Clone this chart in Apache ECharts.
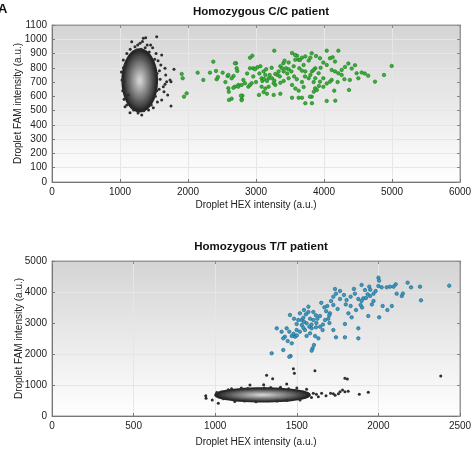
<!DOCTYPE html>
<html lang="en">
<head>
<meta charset="UTF-8">
<title>ddPCR droplet plots</title>
<style>
    html, body { margin: 0; padding: 0; background: #fff; }
    #echart { width: 471px; height: 463px; }
</style>
</head>
<body>
<div id="echart"></div>
<script src="https://cdn.jsdelivr.net/npm/echarts@6/dist/echarts.min.js"></script>
<script>
    // ---- data (HEX, FAM in a.u.) ----
    const xTicksTop = [0, 1000, 2000, 3000, 4000, 5000, 6000];
    const yTicksTop = [0, 100, 200, 300, 400, 500, 600, 700, 800, 900, 1000, 1100];
    const xTicksBottom = [0, 500, 1000, 1500, 2000, 2500];
    const yTicksBottom = [0, 1000, 2000, 3000, 4000, 5000];

    // dense negative-droplet clouds: [centerHEX, centerFAM, spreadHEX, spreadFAM]
    const cloudTop = [[1290, 712, 255, 218]];
    const cloudBottom = [[1290, 680, 290, 215]];

    const greyTop = [
        [1540,1018],[1378,1011],[1343,1008],[1294,972],[1172,983],[1220,948],[1260,960],[1330,985],
        [1400,960],[1613,890],[1662,797],[1672,750],[1686,703],[1735,715],[1794,790],[1750,702],
        [1637,668],[1647,632],[1701,610],[1750,533],[1613,575],[1662,685],[1147,486],[1265,483],
        [1074,528],[1049,855],[1029,715],[1040,640],[1060,580],[1100,900],[1150,930],[1560,850],
        [1580,780],[1575,650],[1550,560],[1490,520],[1200,505],[1320,470],[1590,720],[1600,820],
        [1530,900],[1450,960],[1020,770],[1100,540],[1420,505],[1480,940],[1120,610],[1050,800],
        [1370,940],[1310,930],[1250,925],[1430,910],[1510,860],[1545,760],[1540,640],[1060,700],
        [1075,820],[1090,600],[1180,520],[1350,500],[1460,540],[1520,600]
    ];
    const greenTop = [
        [1941,598],[1980,621],[1907,757],[1922,727],[2142,766],[2225,715],[2372,843],[2323,766],
        [2412,778],[2422,720],[2440,735],[2510,766],[2583,743],[2593,657],[2600,632],[2642,584],
        [2670,743],[2690,668],[2706,832],[2725,778],[2740,680],[2790,580],[2800,605],
        [3269,920],[2691,832],[2912,871],[2946,885],[2593,750],[2642,727],[2716,797],[2814,715],
        [2789,680],[2838,692],[2740,668],[2667,660],[2603,575],[2779,605],[2789,573],[2887,668],
        [2912,680],[2936,692],[2912,797],[2961,797],[2985,790],[3020,804],[3064,811],[3112,775],
        [3083,727],[3093,708],[3118,721],[3137,750],[3161,708],[3186,727],[3201,750],[3235,727],
        [3270,710],[3284,757],[3318,750],[3333,775],[3358,811],[3382,797],[3407,775],[3441,797],
        [3480,790],[3520,775],[3554,811],[3578,857],[3530,904],[3603,885],[3627,857],[3676,871],
        [3725,880],[3775,851],[3799,871],[3637,797],[3676,780],[3725,775],[3720,740],[3775,727],
        [3823,775],[3872,797],[3848,700],[3676,700],[3700,665],[3627,640],[3578,655],[3530,680],
        [3480,727],[3407,708],[3358,695],[3284,680],[3260,692],[3186,668],[3137,655],[3112,630],
        [3083,668],[3161,618],[3260,610],[3358,618],[3044,610],[3530,590],[3627,590],[3676,590],
        [3725,552],[3823,552],[3402,832],[3480,837],[3574,890],[3647,855],[3819,902],[3882,883],
        [3941,867],[4040,920],[3990,837],[4040,820],[4088,867],[4127,874],[4162,844],[4211,920],
        [4113,785],[4162,775],[4211,762],[4260,785],[4309,806],[4358,830],[4407,795],[4456,818],
        [4480,762],[4554,767],[4505,727],[4380,715],[4260,750],[4113,715],[4040,690],[3990,667],
        [4088,703],[3941,703],[3872,727],[3921,762],[3990,727],[3848,785],[3800,750],[3870,656],
        [3895,645],[3925,673],[3850,633],[3820,598],[4040,568],[4166,570],[3794,598],[4368,645],
        [4750,703],[4882,750],[4995,813],[4600,760],[4650,745],[3000,700],[2960,740],[3350,740],
        [3460,760],[3560,740],[3600,720],[3230,800],[3150,790],[2870,760],[2550,700],[4200,700],
        [4150,640],[4300,720],[3950,800],[3700,820],[3420,850],[3050,760]
    ];

    const greyBottom = [
        [942,655],[944,570],[982,516],[1019,410],[1315,1312],[1352,1204],[1479,1527],[1485,1376],
        [1611,1462],[1438,1032],[1213,1000],[1297,1010],[1601,732],[1632,623],[1652,730],[1679,655],
        [1707,730],[1735,667],[1795,1215],[1810,1194],[1765,785],[1780,840],[1795,785],[1815,800],
        [1755,720],[1724,720],[1883,700],[1938,765],[2382,1290],[1100,880],[1160,900],[1400,930],
        [1500,900],[1560,860],[1050,560],[1120,470],[1250,460],[1380,480],[1520,520],[1590,600],
        [1620,700],[1010,760],[1080,850],[1340,920],[1200,890],[1450,880],[1300,900],[1180,480],
        [1440,500]
    ];
    const blueBottom = [
        [2000,4462],[2004,4366],[2434,4204],[2179,4301],[2255,4172],[2261,3731],[2106,4247],[2093,4172],
        [2071,4172],[2143,3871],[2112,3946],[2051,4150],[2000,4193],[2020,4150],[1983,4032],[1970,3946],
        [1944,4172],[1950,4075],[1918,4064],[1897,4226],[1908,3796],[1897,3710],[1891,3581],[1877,3774],
        [1863,3419],[1856,3946],[1805,3742],[1789,3903],[1765,4032],[1734,4096],[1740,3946],[1765,3774],
        [1724,3849],[1710,3710],[1724,3581],[1687,3548],[1669,3505],[1703,3312],[1693,3140],[1699,3247],
        [1673,3097],[1642,3226],[1617,3247],[1626,3140],[1601,3097],[1581,3140],[1571,3527],[1544,3419],
        [1519,3312],[1530,3097],[1544,3043],[1560,2989],[1577,2881],[1591,2828],[1617,2860],[1642,2881],
        [1658,2774],[1632,2505],[1605,2290],[1597,2183],[1591,2108],[1612,2580],[1581,2666],[1560,2580],
        [1550,2774],[1519,2720],[1499,2774],[1489,2559],[1469,2580],[1454,2720],[1438,2828],[1427,2559],
        [1417,2505],[1444,2419],[1469,2344],[1462,1935],[1454,1913],[1417,2129],[1377,2828],[1407,2720],
        [1458,3258],[1483,3140],[1509,3097],[1499,2968],[1530,2935],[1540,3172],[1556,3279],[1571,3355],
        [1601,3355],[1346,2022],[1724,2774],[1740,2538],[1795,2538],[1795,2968],[1877,2505],[1877,2828],
        [1816,3312],[1836,3183],[1830,3548],[1938,3226],[2005,3183],[2026,3548],[2082,3548],[2055,3419],
        [1970,3710],[1949,3871],[1924,3806],[1934,3925],[1850,4100],[1800,3600],[1660,2950],[1620,3000],
        [1590,2950],[1480,2650],[1500,2600],[1540,2850],[1680,3380],[1750,3450],[1900,3500],[1960,3600],
        [2150,3950],[2200,4150],[1830,3850],[1650,3650],[1700,3000]
    ];

    const myChart = echarts.init(document.getElementById("echart"));

    const font = "Liberation Sans, Arial, sans-serif";
    const plotBg = new echarts.graphic.LinearGradient(0, 0, 0, 1, [
        { offset: 0, color: "#d4d4d4" },
        { offset: 1, color: "#ffffff" }
    ]);

    // concentric ellipses, dark rim to light core
    function cloudRender(params, api) {
        const cx = api.value(0), cy = api.value(1), rx = api.value(2), ry = api.value(3);
        const layers = 14;
        const children = [];
        for (let k = 0; k < layers; k++) {
            const t = k / (layers - 1);
            const s = 1 - 0.9 * t;
            const g = Math.round(38 + 170 * Math.pow(t, 0.95));
            const pts = [];
            for (let i = 0; i < 48; i++) {
                const a = (i / 48) * Math.PI * 2;
                pts.push(api.coord([cx + rx * s * Math.cos(a), cy + ry * s * Math.sin(a)]));
            }
            children.push({
                type: "polygon",
                shape: { points: pts },
                style: {
                    fill: "rgb(" + g + "," + g + "," + g + ")",
                    stroke: k === 0 ? "#262626" : null,
                    lineWidth: k === 0 ? 2 : 0
                }
            });
        }
        return { type: "group", children: children };
    }

    function axisBase(ticks, gridIndex, gap, name) {
        return {
            gridIndex: gridIndex,
            type: "value",
            min: ticks[0],
            max: ticks[ticks.length - 1],
            interval: ticks[1] - ticks[0],
            name: name,
            nameLocation: "middle",
            nameGap: gap,
            nameMoveOverlap: false,
            nameTextStyle: { fontFamily: font, fontSize: 10, color: "#222" },
            axisLine: { onZero: false, lineStyle: { color: "#777" } },
            axisTick: { inside: true, length: 3, lineStyle: { color: "#777" } },
            axisLabel: {
                fontFamily: font, fontSize: 10, color: "#222", margin: 5,
                formatter: (v) => String(v)
            },
            splitLine: { show: true, lineStyle: { color: "#e6e6e6", width: 1 } }
        };
    }
    // mirrored tick marks on the top / right frame
    function mirrorAxis(ticks, gridIndex, position) {
        return {
            gridIndex: gridIndex,
            type: "value",
            position: position,
            min: ticks[0],
            max: ticks[ticks.length - 1],
            interval: ticks[1] - ticks[0],
            axisLine: { show: true, onZero: false, lineStyle: { color: "#999" } },
            axisTick: { inside: true, length: 3, lineStyle: { color: "#888" } },
            axisLabel: { show: false },
            splitLine: { show: false }
        };
    }

    const option = {
        animation: false,
        backgroundColor: "#ffffff",
        title: [
            {
                text: "Homozygous C/C patient",
                left: 256, top: 1, textAlign: "center",
                textStyle: { fontFamily: font, fontSize: 11.5, fontWeight: "bold", color: "#111" }
            },
            {
                text: "Homozygous T/T patient",
                left: 256, top: 236, textAlign: "center",
                textStyle: { fontFamily: font, fontSize: 11.5, fontWeight: "bold", color: "#111" }
            }
        ],
        graphic: [
            {
                type: "text", left: -2, top: 3,
                style: { text: "A", font: "bold 13px " + font, fill: "#111" }
            }
        ],
        grid: [
            { left: 52, right: 11, top: 25, height: 157, outerBoundsMode: "none", show: true, backgroundColor: plotBg, borderColor: "#999", borderWidth: 1 },
            { left: 52, right: 11, top: 261, height: 155, outerBoundsMode: "none", show: true, backgroundColor: plotBg, borderColor: "#999", borderWidth: 1 }
        ],
        xAxis: [
            axisBase(xTicksTop, 0, 18, "Droplet HEX intensity (a.u.)"),
            axisBase(xTicksBottom, 1, 21, "Droplet HEX intensity (a.u.)"),
            mirrorAxis(xTicksTop, 0, "top"),
            mirrorAxis(xTicksBottom, 1, "top")
        ],
        yAxis: [
            axisBase(yTicksTop, 0, 29, "Droplet FAM intensity (a.u.)"),
            axisBase(yTicksBottom, 1, 28, "Droplet FAM intensity (a.u.)"),
            mirrorAxis(yTicksTop, 0, "right"),
            mirrorAxis(yTicksBottom, 1, "right")
        ],
        series: [
            {
                type: "custom", xAxisIndex: 0, yAxisIndex: 0,
                renderItem: cloudRender, data: cloudTop, z: 2
            },
            {
                type: "scatter", xAxisIndex: 0, yAxisIndex: 0, data: greyTop,
                symbolSize: 3, itemStyle: { color: "#2e2e2e", opacity: 1 }, z: 3
            },
            {
                type: "scatter", xAxisIndex: 0, yAxisIndex: 0, data: greenTop,
                symbolSize: 3.5, itemStyle: { color: "#37b037", borderColor: "#1d7a1d", borderWidth: 0.6, opacity: 1 }, z: 3
            },
            {
                type: "custom", xAxisIndex: 1, yAxisIndex: 1,
                renderItem: cloudRender, data: cloudBottom, z: 2
            },
            {
                type: "scatter", xAxisIndex: 1, yAxisIndex: 1, data: greyBottom,
                symbolSize: 3, itemStyle: { color: "#2e2e2e", opacity: 1 }, z: 3
            },
            {
                type: "scatter", xAxisIndex: 1, yAxisIndex: 1, data: blueBottom,
                symbolSize: 3.5, itemStyle: { color: "#3a9cc6", borderColor: "#1d5f80", borderWidth: 0.6, opacity: 1 }, z: 3
            }
        ]
    };

    myChart.setOption(option);
</script>
</body>
</html>
